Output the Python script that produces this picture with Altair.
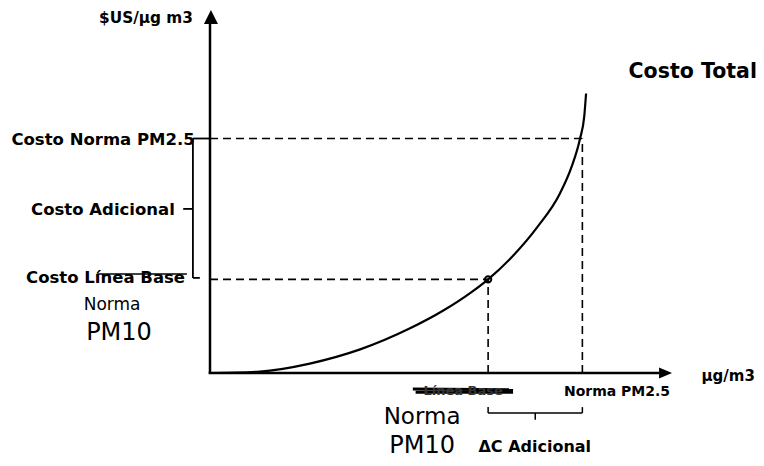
import altair as alt
import pandas as pd

# ---- Conceptual data (concentration index 0-100, cost index 0-100) ----
curve_x = [0, 10.8, 21.6, 32.5, 43.3, 50.5, 56.3, 60.2, 65.6, 70.8, 75.8, 78.3, 80.1, 81.0, 81.4]
curve_y = [0, 0.4, 2.6, 6.5, 12.3, 17.2, 22.0, 25.8, 32.3, 40.1, 49.6, 56.9, 64.6, 70.6, 77.0]

base_x, base_y = 60.2, 25.8      # Norma PM10 (línea base)
norma_x, norma_y = 80.6, 64.6    # Norma PM2.5

y_labels = ["$US/µg m3", "Costo Norma PM2.5", "Costo Adicional", "Costo Línea Base"]
x_labels = ["Norma PM2.5", "ΔC Adicional"]
side_labels = ["Costo Total", "µg/m3"]
struck_label = "Línea Base"
hand_labels = ["Norma", "PM10", "Norma", "PM10"]

FONT = "DejaVu Sans"
XS = alt.Scale(domain=[0, 100], nice=False, zero=False)
YS = alt.Scale(domain=[0, 100], nice=False, zero=False)


def xy(x="x", y="y"):
    return dict(x=alt.X(f"{x}:Q", scale=XS, axis=None),
                y=alt.Y(f"{y}:Q", scale=YS, axis=None))


curve_df = pd.DataFrame({"x": curve_x, "y": curve_y})
curve = alt.Chart(curve_df).mark_line(
    color="black", strokeWidth=2.2, interpolate="monotone"
).encode(**xy())

mid_y = (base_y + norma_y) / 2
mid_x = (base_x + norma_x) / 2
solid = pd.DataFrame([
    # axes
    dict(x=0, y=0, x2=0, y2=96.5, w=2.5),
    dict(x=-0.3, y=0, x2=97.3, y2=0, w=2.5),
    # tick + bracket on cost axis
    dict(x=-3.7, y=norma_y, x2=0, y2=norma_y, w=1.8),
    dict(x=-3.7, y=norma_y, x2=-3.7, y2=base_y + 0.4, w=1.8),
    dict(x=-3.7, y=base_y + 0.4, x2=-2.2, y2=base_y + 0.4, w=1.8),
    dict(x=-5.8, y=mid_y, x2=-3.7, y2=mid_y, w=1.8),
    # strike-through on "Línea Base"
    dict(x=-24.5, y=27.3, x2=-5.0, y2=27.3, w=1.5),
    # bracket under x axis
    dict(x=base_x, y=-11, x2=norma_x, y2=-11, w=1.5),
    dict(x=base_x, y=-11, x2=base_x, y2=-9.4, w=1.5),
    dict(x=norma_x, y=-11, x2=norma_x, y2=-9.4, w=1.5),
    dict(x=mid_x, y=-11, x2=mid_x, y2=-12.9, w=1.5),
    # scribble over the struck x label
    dict(x=43.9, y=-4.4, x2=65.6, y2=-4.6, w=3),
    dict(x=44.5, y=-5.3, x2=65.6, y2=-5.3, w=3),
])
solid_rules = alt.Chart(solid).mark_rule(color="black").encode(
    **xy(), x2="x2:Q", y2="y2:Q",
    strokeWidth=alt.StrokeWidth("w:Q", scale=None),
)

dashed = pd.DataFrame([
    dict(x=0, y=base_y, x2=base_x, y2=base_y),
    dict(x=base_x, y=0, x2=base_x, y2=base_y),
    dict(x=0, y=norma_y, x2=norma_x, y2=norma_y),
    dict(x=norma_x, y=0, x2=norma_x, y2=norma_y),
])
dashed_rules = alt.Chart(dashed).mark_rule(
    color="black", strokeWidth=1.6, strokeDash=[8, 5]
).encode(**xy(), x2="x2:Q", y2="y2:Q")

arrows = pd.DataFrame([
    dict(x=0.2, y=98.1, s="M0,-1L1,1L-1,1Z", size=196),
    dict(x=98.6, y=0, s="M1,0L-1,-0.85L-1,0.85Z", size=169),
])
arrow_marks = alt.Chart(arrows).mark_point(
    filled=True, color="black", opacity=1, strokeWidth=0
).encode(**xy(), shape=alt.Shape("s:N", scale=None),
         size=alt.Size("size:Q", scale=None))

pt = pd.DataFrame({"x": [base_x], "y": [base_y]})
marker = alt.Chart(pt).mark_point(
    shape="circle", filled=False, color="black", size=40, strokeWidth=2, opacity=1
).encode(**xy())


def text_layer(rows, align, weight, color="black"):
    df = pd.DataFrame(rows)
    return alt.Chart(df).mark_text(
        align=align, baseline="middle", font=FONT, fontWeight=weight, color=color
    ).encode(**xy(), text="t:N", size=alt.Size("fs:Q", scale=None))


t_right = text_layer([
    dict(x=-3.7, y=97.8, t=y_labels[0], fs=15.3),
    dict(x=-3.3, y=64.3, t=y_labels[1], fs=16.5),
    dict(x=-7.6, y=44.9, t=y_labels[2], fs=16.5),
    dict(x=-5.4, y=26.2, t=y_labels[3], fs=16.5),
], "right", "bold")

t_center = text_layer([
    dict(x=88.1, y=-5.2, t=x_labels[0], fs=14),
    dict(x=70.3, y=-20.4, t=x_labels[1], fs=16),
], "center", "bold")

t_struck = text_layer([
    dict(x=54.8, y=-5.0, t=struck_label, fs=13),
], "center", "bold", color="#333333")

t_left = text_layer([
    dict(x=90.6, y=82.9, t=side_labels[0], fs=20.5),
    dict(x=106.4, y=-0.8, t=side_labels[1], fs=15),
], "left", "bold")

t_hand = text_layer([
    dict(x=-21.2, y=18.7, t=hand_labels[0], fs=17),
    dict(x=-19.7, y=11.0, t=hand_labels[1], fs=24),
    dict(x=45.9, y=-12.1, t=hand_labels[2], fs=23),
    dict(x=45.9, y=-20.1, t=hand_labels[3], fs=24),
], "center", "normal")

chart = alt.layer(
    dashed_rules, solid_rules, curve, arrow_marks, marker,
    t_right, t_center, t_struck, t_left, t_hand,
).properties(
    width=462, height=363,
    padding={"left": 202, "top": 2, "right": 84, "bottom": 85},
    autosize=alt.AutoSizeParams(type="none"),
    background="white",
).configure_view(stroke=None)

chart.save("out.html", embed_options={"renderer": "svg", "actions": False})
